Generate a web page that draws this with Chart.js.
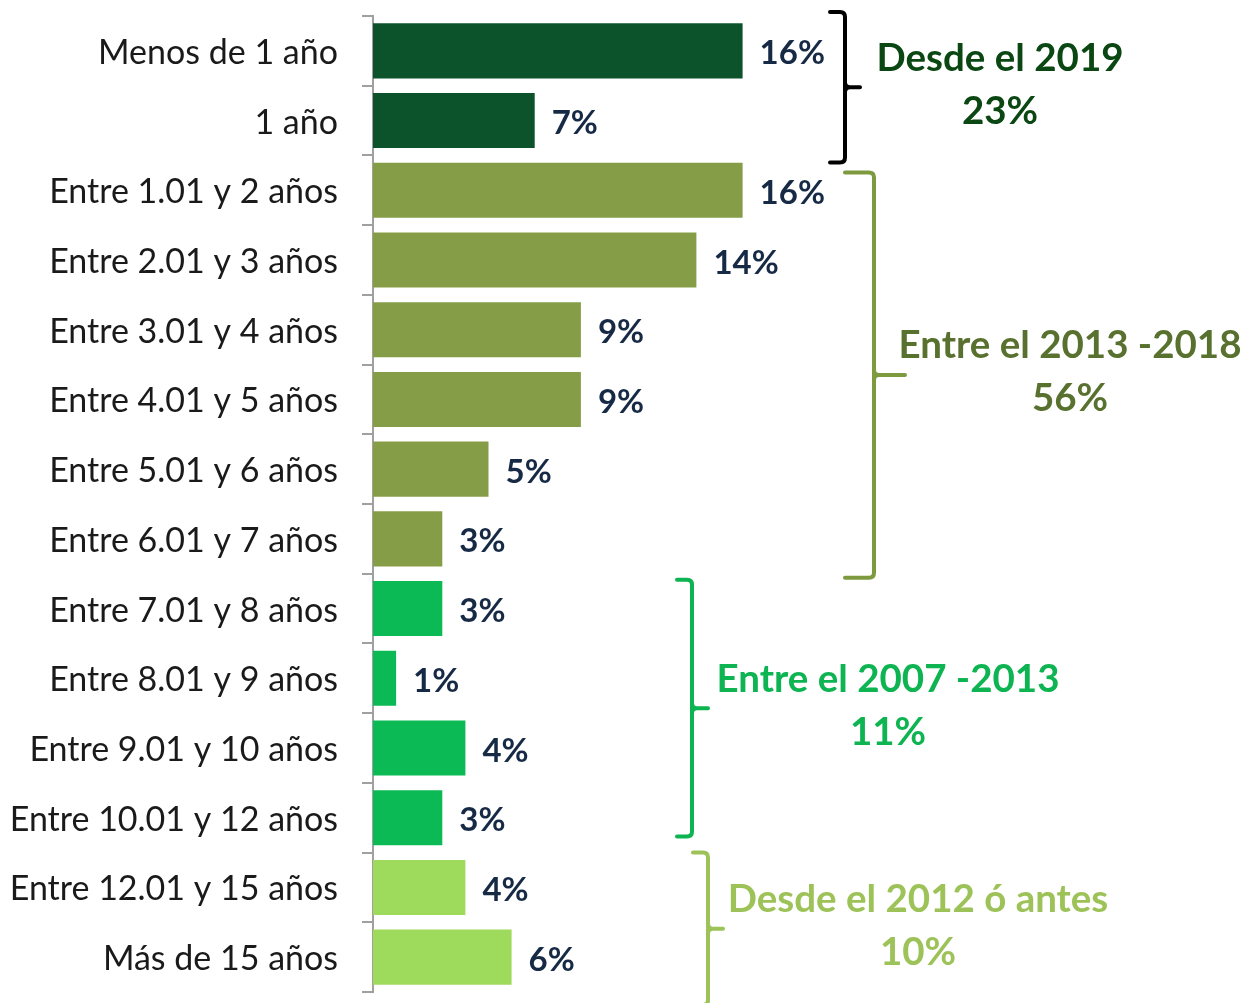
<!DOCTYPE html>
<html>
<head>
<meta charset="utf-8">
<script src="https://cdn.jsdelivr.net/npm/chart.js@4.4.1/dist/chart.umd.min.js"></script>
<style>
  html, body { margin: 0; padding: 0; background: #ffffff; }
  #wrap { position: relative; width: 1245px; height: 1003px; }
</style>
</head>
<body>
<div id="wrap"><canvas id="chart"></canvas></div>
<script>
const categories = [
    'Menos de 1 año', '1 año', 'Entre 1.01 y 2 años', 'Entre 2.01 y 3 años',
    'Entre 3.01 y 4 años', 'Entre 4.01 y 5 años', 'Entre 5.01 y 6 años',
    'Entre 6.01 y 7 años', 'Entre 7.01 y 8 años', 'Entre 8.01 y 9 años',
    'Entre 9.01 y 10 años', 'Entre 10.01 y 12 años', 'Entre 12.01 y 15 años',
    'Más de 15 años'
];
const values = [16, 7, 16, 14, 9, 9, 5, 3, 3, 1, 4, 3, 4, 6];

// groups shown with brackets on the right
const groupNames = ['Desde el 2019', 'Entre el 2013 -2018', 'Entre el 2007 -2013', 'Desde el 2012 ó antes'];
const groupTotals = ['23%', '56%', '11%', '10%'];
const groupFirst = [0, 2, 8, 12];
const groupLast = [1, 7, 11, 13];

const groupColors = ['#0c532b', '#869d47', '#0bba55', '#9edb5c'];
const groupTextColors = ['#0a4712', '#58712f', '#0db451', '#9cc258'];
const bracketColors = ['#000000', '#7e9a3f', '#0db451', '#9cc258'];

// bracket styling (pixel layout)
const bracketX = [  // [open end x, spine x, nub x]
    [830, 845, 860], [845, 874, 905], [677, 692, 708], [693, 708, 723]
];
const bracketPad = [[-4, 7], [17, 4], [6, -16], [0, 13]];
const textCenterX = [1000, 1070, 888, 918];

const barColors = values.map((v, i) => {
    const g = groupFirst.findIndex((f, k) => i >= f && i <= groupLast[k]);
    return groupColors[g];
});

const FONT = 'Lato, "Open Sans", sans-serif';

const valueLabels = {
    id: 'valueLabels',
    afterDatasetsDraw(chart) {
        const ctx = chart.ctx;
        const meta = chart.getDatasetMeta(0);
        ctx.save();
        ctx.font = 'bold 33px ' + FONT;
        ctx.fillStyle = '#172a45';
        ctx.textAlign = 'left';
        ctx.textBaseline = 'middle';
        meta.data.forEach((bar, i) => {
            ctx.fillText(values[i] + '%', bar.x + 17, bar.y + 3);
        });
        ctx.restore();
    }
};

const brackets = {
    id: 'brackets',
    afterDraw(chart) {
        const ctx = chart.ctx;
        const y = chart.scales.y;
        const half = (y.getPixelForValue(1) - y.getPixelForValue(0)) / 2;
        ctx.save();
        groupNames.forEach((name, g) => {
            const top = y.getPixelForValue(groupFirst[g]) - half + bracketPad[g][0];
            const bottom = y.getPixelForValue(groupLast[g]) + half + bracketPad[g][1];
            const mid = (top + bottom) / 2;
            const [x0, x1, x2] = bracketX[g];
            const r = 5;
            ctx.strokeStyle = bracketColors[g];
            ctx.lineWidth = 4;
            ctx.lineCap = 'round';
            ctx.beginPath();
            ctx.moveTo(x0, top);
            ctx.lineTo(x1 - r, top);
            ctx.quadraticCurveTo(x1, top, x1, top + r);
            ctx.lineTo(x1, bottom - r);
            ctx.quadraticCurveTo(x1, bottom, x1 - r, bottom);
            ctx.lineTo(x0, bottom);
            ctx.moveTo(x1, mid - r);
            ctx.quadraticCurveTo(x1, mid, x1 + r, mid);
            ctx.lineTo(x2, mid);
            ctx.moveTo(x1, mid + r);
            ctx.quadraticCurveTo(x1, mid, x1 + r, mid);
            ctx.stroke();

            ctx.fillStyle = groupTextColors[g];
            ctx.font = 'bold 38.5px ' + FONT;
            ctx.textAlign = 'center';
            ctx.textBaseline = 'middle';
            ctx.fillText(name, textCenterX[g], mid - 29);
            ctx.fillText(groupTotals[g], textCenterX[g], mid + 24);
        });
        ctx.restore();
    }
};

new Chart(document.getElementById('chart'), {
    type: 'bar',
    data: {
        labels: categories,
        datasets: [{
            data: values,
            backgroundColor: barColors,
            borderWidth: 0,
            categoryPercentage: 1,
            barPercentage: 0.79
        }]
    },
    options: {
        indexAxis: 'y',
        responsive: true,
        maintainAspectRatio: false,
        animation: false,
        layout: { padding: { left: 0, right: 410, top: 16, bottom: 11 } },
        scales: {
            x: { display: false, min: 0, max: 20 },
            y: {
                afterFit(scale) {
                    scale.width = 373;
                    scale.paddingTop = 0;
                    scale.paddingBottom = 0;
                },
                grid: { drawOnChartArea: false, tickLength: 11, color: '#a0a0a0', lineWidth: 2 },
                border: { color: '#a0a0a0', width: 2 },
                ticks: { color: '#1a1a1a', padding: 24, labelOffset: 2, font: { family: FONT, size: 34 } }
            }
        },
        plugins: { legend: { display: false }, tooltip: { enabled: false } }
    },
    plugins: [valueLabels, brackets]
});
</script>
</body>
</html>
